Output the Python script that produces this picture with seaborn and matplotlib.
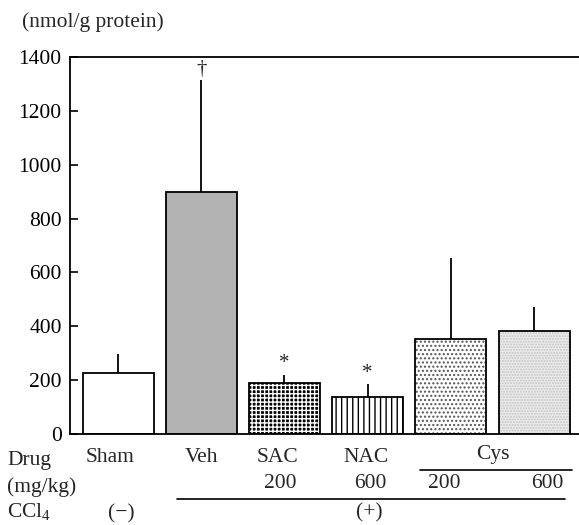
import matplotlib
matplotlib.use("Agg")
import matplotlib.pyplot as plt
import matplotlib.transforms as mtransforms
import seaborn as sns
import numpy as np
import pandas as pd

# ---- data ----
groups = ["Sham", "Veh", "SAC", "NAC", "Cys200", "Cys600"]
means = [228, 898, 188, 136, 352, 382]
sems = [70, 417, 32, 50, 300, 90]
drug_labels = ["Sham", "Veh", "SAC", "NAC"]
dose_labels = ["", "", "200", "600", "200", "600"]
marks = ["", "\u2020", "*", "*", "", ""]
yticks = [0, 200, 400, 600, 800, 1000, 1200, 1400]

fills = ["white", "#b3b3b3", "black", "white", "white", "#ececec"]
hatches = [None, None, "++++", "|||", "....", "......"]
hatch_cols = ["black", "black", "white", "black", "#555555", "#c4c4c4"]
hatch_lws = [1.0, 1.0, 1.0, 1.0, 1.0, 1.0]

sns.set_theme(style="ticks")
plt.rcParams["font.family"] = ["Liberation Serif", "DejaVu Serif"]
plt.rcParams["mathtext.fontset"] = "custom"
plt.rcParams["mathtext.rm"] = "Liberation Serif"
plt.rcParams["hatch.linewidth"] = 1.0

FS = 15.5
W, H = 579, 525
fig = plt.figure(figsize=(W / 100, H / 100), dpi=100)
ax = fig.add_axes([70 / W, 1 - 434 / H, 1 - 70 / W, (434 - 57) / H])

df = pd.DataFrame({"group": groups, "mean": means})
sns.barplot(data=df, x="group", y="mean", hue="group", palette=fills,
            legend=False, width=0.853, ax=ax, saturation=1, errorbar=None,
            linewidth=0)
x = np.arange(len(groups))
for p, h, hc, hl in zip(ax.patches, hatches, hatch_cols, hatch_lws):
    p.set_edgecolor(hc)
    p.set_linewidth(0)
    if h:
        p.set_hatch(h)
        if hasattr(p, "set_hatch_linewidth"):
            p.set_hatch_linewidth(hl)
# outlines
ax.bar(x, means, width=0.853, fill=False, edgecolor="black", linewidth=1.3, zorder=3)
ax.errorbar(x, means, yerr=[np.zeros(len(x)), sems], fmt="none", ecolor="black",
            elinewidth=1.3, capsize=0, zorder=2)
for xi, m, s, mk in zip(x, means, sems, marks):
    if mk:
        ax.annotate(mk, (xi, m + s), xytext=(0, 1), textcoords="offset points",
                    ha="center", va="bottom", fontsize=15)

ax.set_xlim(-0.577, 5.54)
ax.set_ylim(0, 1400)
ax.set_yticks(yticks)
ax.set_yticklabels([str(t) for t in yticks], fontsize=FS)
ax.tick_params(axis="y", direction="in", length=6, width=1.2, pad=6, colors="black")
ax.set_xticks([])
ax.set_xlabel("")
ax.set_ylabel("")
for side in ["left", "top", "bottom"]:
    ax.spines[side].set_linewidth(1.3)
    ax.spines[side].set_color("black")
ax.spines["right"].set_visible(False)
ax.set_facecolor("white")

fig.text(22 / W, 1 - 22 / H, "(nmol/g protein)", fontsize=FS, va="center", ha="left")

tr = mtransforms.blended_transform_factory(ax.transData, fig.transFigure)
fy = lambda ypx: 1 - ypx / H

# drug row
drug_x = [-0.09, 0.0, -0.08, -0.02]
for i, lab in enumerate(drug_labels):
    ax.text(i + drug_x[i], fy(457), lab, transform=tr, ha="center", va="center",
            fontsize=FS, clip_on=False)
ax.text(4.5, fy(455), "Cys", transform=tr, ha="center", va="center", fontsize=FS)
ax.plot([3.63, 5.46], [fy(470), fy(470)], transform=tr, color="black", lw=1.2, clip_on=False)

# dose row
dose_y = [0, 0, 483, 483, 484, 484]
dose_dx = [0, 0, -0.05, 0.03, -0.08, 0.16]
for i, d in enumerate(dose_labels):
    if d:
        ax.text(i + dose_dx[i], fy(dose_y[i]), d, transform=tr, ha="center", va="center",
                fontsize=FS)
ax.plot([0.71, 5.37], [fy(499), fy(499)], transform=tr, color="black", lw=1.2, clip_on=False)

# CCl4 row
ax.text(0.04, fy(514), "(\u2212)", transform=tr, ha="center", va="center", fontsize=FS)
ax.text(3.02, fy(513), "(+)", transform=tr, ha="center", va="center", fontsize=FS)

fig.text(7 / W, fy(461), "Drug", fontsize=FS, va="center", ha="left")
fig.text(7 / W, fy(487), "(mg/kg)", fontsize=FS, va="center", ha="left")
fig.text(7 / W, fy(512), r"CCl$_\mathrm{4}$", fontsize=FS, va="center", ha="left")

fig.savefig("out.png", dpi=100, facecolor="white")
